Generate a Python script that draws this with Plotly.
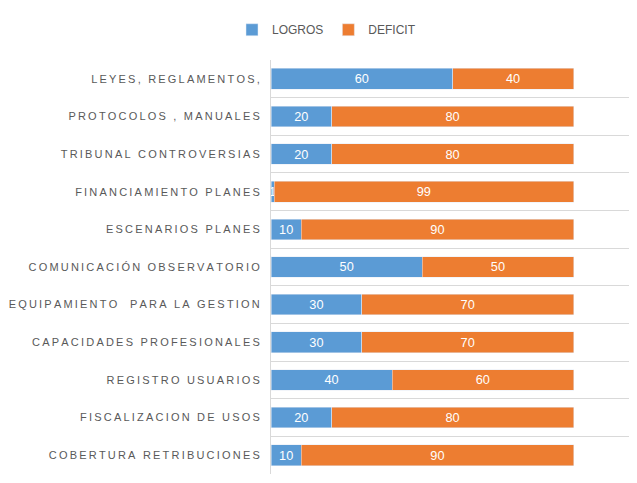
import plotly.graph_objects as go

categories = ["LEYES, REGLAMENTOS,", "PROTOCOLOS , MANUALES", "TRIBUNAL CONTROVERSIAS",
              "FINANCIAMIENTO PLANES", "ESCENARIOS PLANES", "COMUNICACIÓN OBSERVATORIO",
              "EQUIPAMIENTO  PARA LA GESTION", "CAPACIDADES PROFESIONALES", "REGISTRO USUARIOS",
              "FISCALIZACION DE USOS", "COBERTURA RETRIBUCIONES"]
logros = [60, 20, 20, 1, 10, 50, 30, 30, 40, 20, 10]
deficit = [40, 80, 80, 99, 90, 50, 70, 70, 60, 80, 90]

def spaced(s):
    return "\u2009".join(s)

ypos = list(range(len(categories)))[::-1]
labels = [spaced(c) for c in categories]

fig = go.Figure()
fig.add_bar(y=ypos, x=logros, orientation="h", name="LOGROS", marker_color="#5b9bd5",
            text=logros, textposition="inside", insidetextanchor="middle", textangle=0,
            textfont=dict(color="white", size=13), width=0.55)
fig.add_bar(y=ypos, x=deficit, orientation="h", name="DEFICIT", marker_color="#ed7d31",
            text=deficit, textposition="inside", insidetextanchor="middle", textangle=0,
            textfont=dict(color="white", size=13), width=0.55)
fig.update_layout(
    barmode="stack", width=637, height=483, paper_bgcolor="white", plot_bgcolor="white",
    margin=dict(l=263, r=11, t=52, b=17, autoexpand=False),
    font=dict(family="Liberation Sans", color="#595959", size=11),
    legend=dict(orientation="h", x=0.5, xanchor="center", xref="container",
                y=0.985, yanchor="top", yref="container",
                font=dict(size=12, color="#595959"), traceorder="normal"),
    uniformtext=dict(minsize=8, mode="show"),
)
fig.update_xaxes(range=[0, 120], showgrid=False, showticklabels=False, zeroline=False)
fig.update_yaxes(tickvals=ypos, ticktext=labels, range=[-0.5, 10.5], showgrid=False,
                 zeroline=False, showline=True, linecolor="#d9d9d9", ticks="",
                 ticklabelstandoff=8, automargin=False,
                 minor=dict(tick0=0.5, dtick=1, showgrid=True, gridcolor="#d9d9d9"))
fig.write_html("out.html")
